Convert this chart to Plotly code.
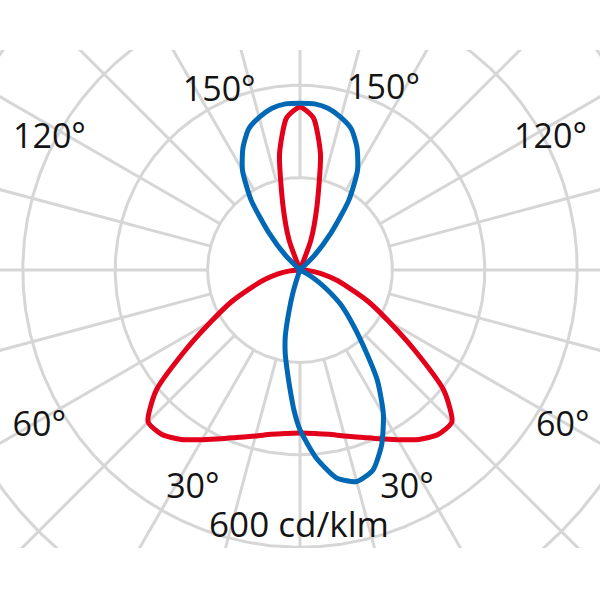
import numpy as np
import plotly.graph_objects as go

# ---------------- data (cd/klm) ----------------
# C0-C180 plane (red), symmetric; angles in degrees from nadir (0 = down)
red_angles = [0, 5, 10, 15, 20, 25, 30, 35, 40, 45, 50, 55, 60, 65, 70, 75, 80, 85, 90,
              155, 160, 165, 170, 175, 180]
red_values = [353, 355, 361, 372, 385, 403, 424, 448, 465, 465, 407, 303, 221, 165, 113, 78, 48, 22, 0,
              0, 69, 141, 255, 331, 353]

# C90-C270 plane (blue), full turn 0..360 (0 = down, 90 = right, 180 = up, 270 = left)
blue_angles = [0, 5, 10, 15, 20, 25, 30, 35, 40, 45, 50, 55, 60, 65, 70,
               130, 135, 140, 145, 150, 155, 160, 165, 170, 175, 180,
               185, 190, 195, 200, 205, 210, 215, 220, 225, 230,
               337.5, 340, 342.5, 345, 347.5, 350, 352.5, 355, 357.5, 360]
blue_values = [346, 409, 457, 474, 461, 418, 361, 292, 212, 156, 113, 65, 30, 4, 0,
               0, 43, 104, 184, 249, 292, 325, 342, 355, 361, 361,
               361, 355, 342, 325, 292, 249, 184, 104, 43, 0,
               0, 11, 48, 91, 147, 184, 216, 255, 303, 346]

grid_radii = [200, 400, 600, 800]
grid_angles = list(range(0, 360, 15))

angle_labels = ["150°", "150°", "120°", "120°", "60°", "60°", "30°", "30°"]
scale_label = "600 cd/klm"

# ---------------- helpers ----------------
def to_xy(r, a):
    r = np.asarray(r, float)
    t = np.radians(np.asarray(a, float))
    return r * np.sin(t), -r * np.cos(t)

GRID = "#d6d6d6"
RED = "#e2001a"
BLUE = "#0068b4"
FONT = "Open Sans"
TXT = "#141414"
k = 200 / 92.4  # cd/klm per screen pixel

fig = go.Figure()

# grid circles
circ = np.linspace(0, 360, 721)
for rr in grid_radii:
    x, y = to_xy(np.full_like(circ, rr), circ)
    fig.add_trace(go.Scatter(x=x, y=y, mode="lines", line=dict(color=GRID, width=3),
                             hoverinfo="skip", showlegend=False))
# radial lines starting at first circle
for a in grid_angles:
    x, y = to_xy([grid_radii[0], 1200], [a, a])
    fig.add_trace(go.Scatter(x=x, y=y, mode="lines", line=dict(color=GRID, width=3),
                             hoverinfo="skip", showlegend=False))

# red curve (mirror to full turn)
ra = list(red_angles) + [360 - a for a in red_angles[::-1]][1:]
rv = list(red_values) + list(red_values[::-1])[1:]
x, y = to_xy(rv, ra)
fig.add_trace(go.Scatter(x=x, y=y, mode="lines",
                         line=dict(color=RED, width=5, shape="spline", smoothing=0.6),
                         hoverinfo="skip", showlegend=False))

# blue curve
x, y = to_xy(blue_values, blue_angles)
fig.add_trace(go.Scatter(x=x, y=y, mode="lines",
                         line=dict(color=BLUE, width=5, shape="spline", smoothing=0.6),
                         hoverinfo="skip", showlegend=False))

# label positions given as (radius, angle, vertical nudge in px)
label_pos = [(430, 204.0, 4), (436, 155.5, 4), (617, 241.5, 6), (617, 118.5, 6),
             (655, 300.5, 4), (660, 59.5, 3), (525, 333.8, 2), (525, 26.2, 2)]
lx, ly = to_xy([p[0] for p in label_pos], [p[1] for p in label_pos])
ly = ly - np.array([p[2] for p in label_pos]) * k
fig.add_trace(go.Scatter(x=lx, y=ly, mode="text", text=angle_labels,
                         textfont=dict(family=FONT, size=34, color=TXT),
                         hoverinfo="skip", showlegend=False, cliponaxis=False))
sx, sy = to_xy([550], [0.0])
sy = sy - 4 * k
fig.add_trace(go.Scatter(x=sx - 1 * k, y=sy, mode="text", text=[scale_label],
                         textfont=dict(family=FONT, size=35, color=TXT),
                         hoverinfo="skip", showlegend=False, cliponaxis=False))

fig.update_layout(
    width=600, height=600,
    margin=dict(l=0, r=0, t=50, b=52),
    paper_bgcolor="white", plot_bgcolor="white",
    xaxis=dict(range=[-300 * k, 300 * k], visible=False, fixedrange=True),
    yaxis=dict(range=[-278 * k, 220 * k], visible=False, fixedrange=True),
    showlegend=False,
)
fig.write_html("out.html", config={"displayModeBar": False},
               post_script="document.body.style.margin='0';document.body.style.padding='0';")
